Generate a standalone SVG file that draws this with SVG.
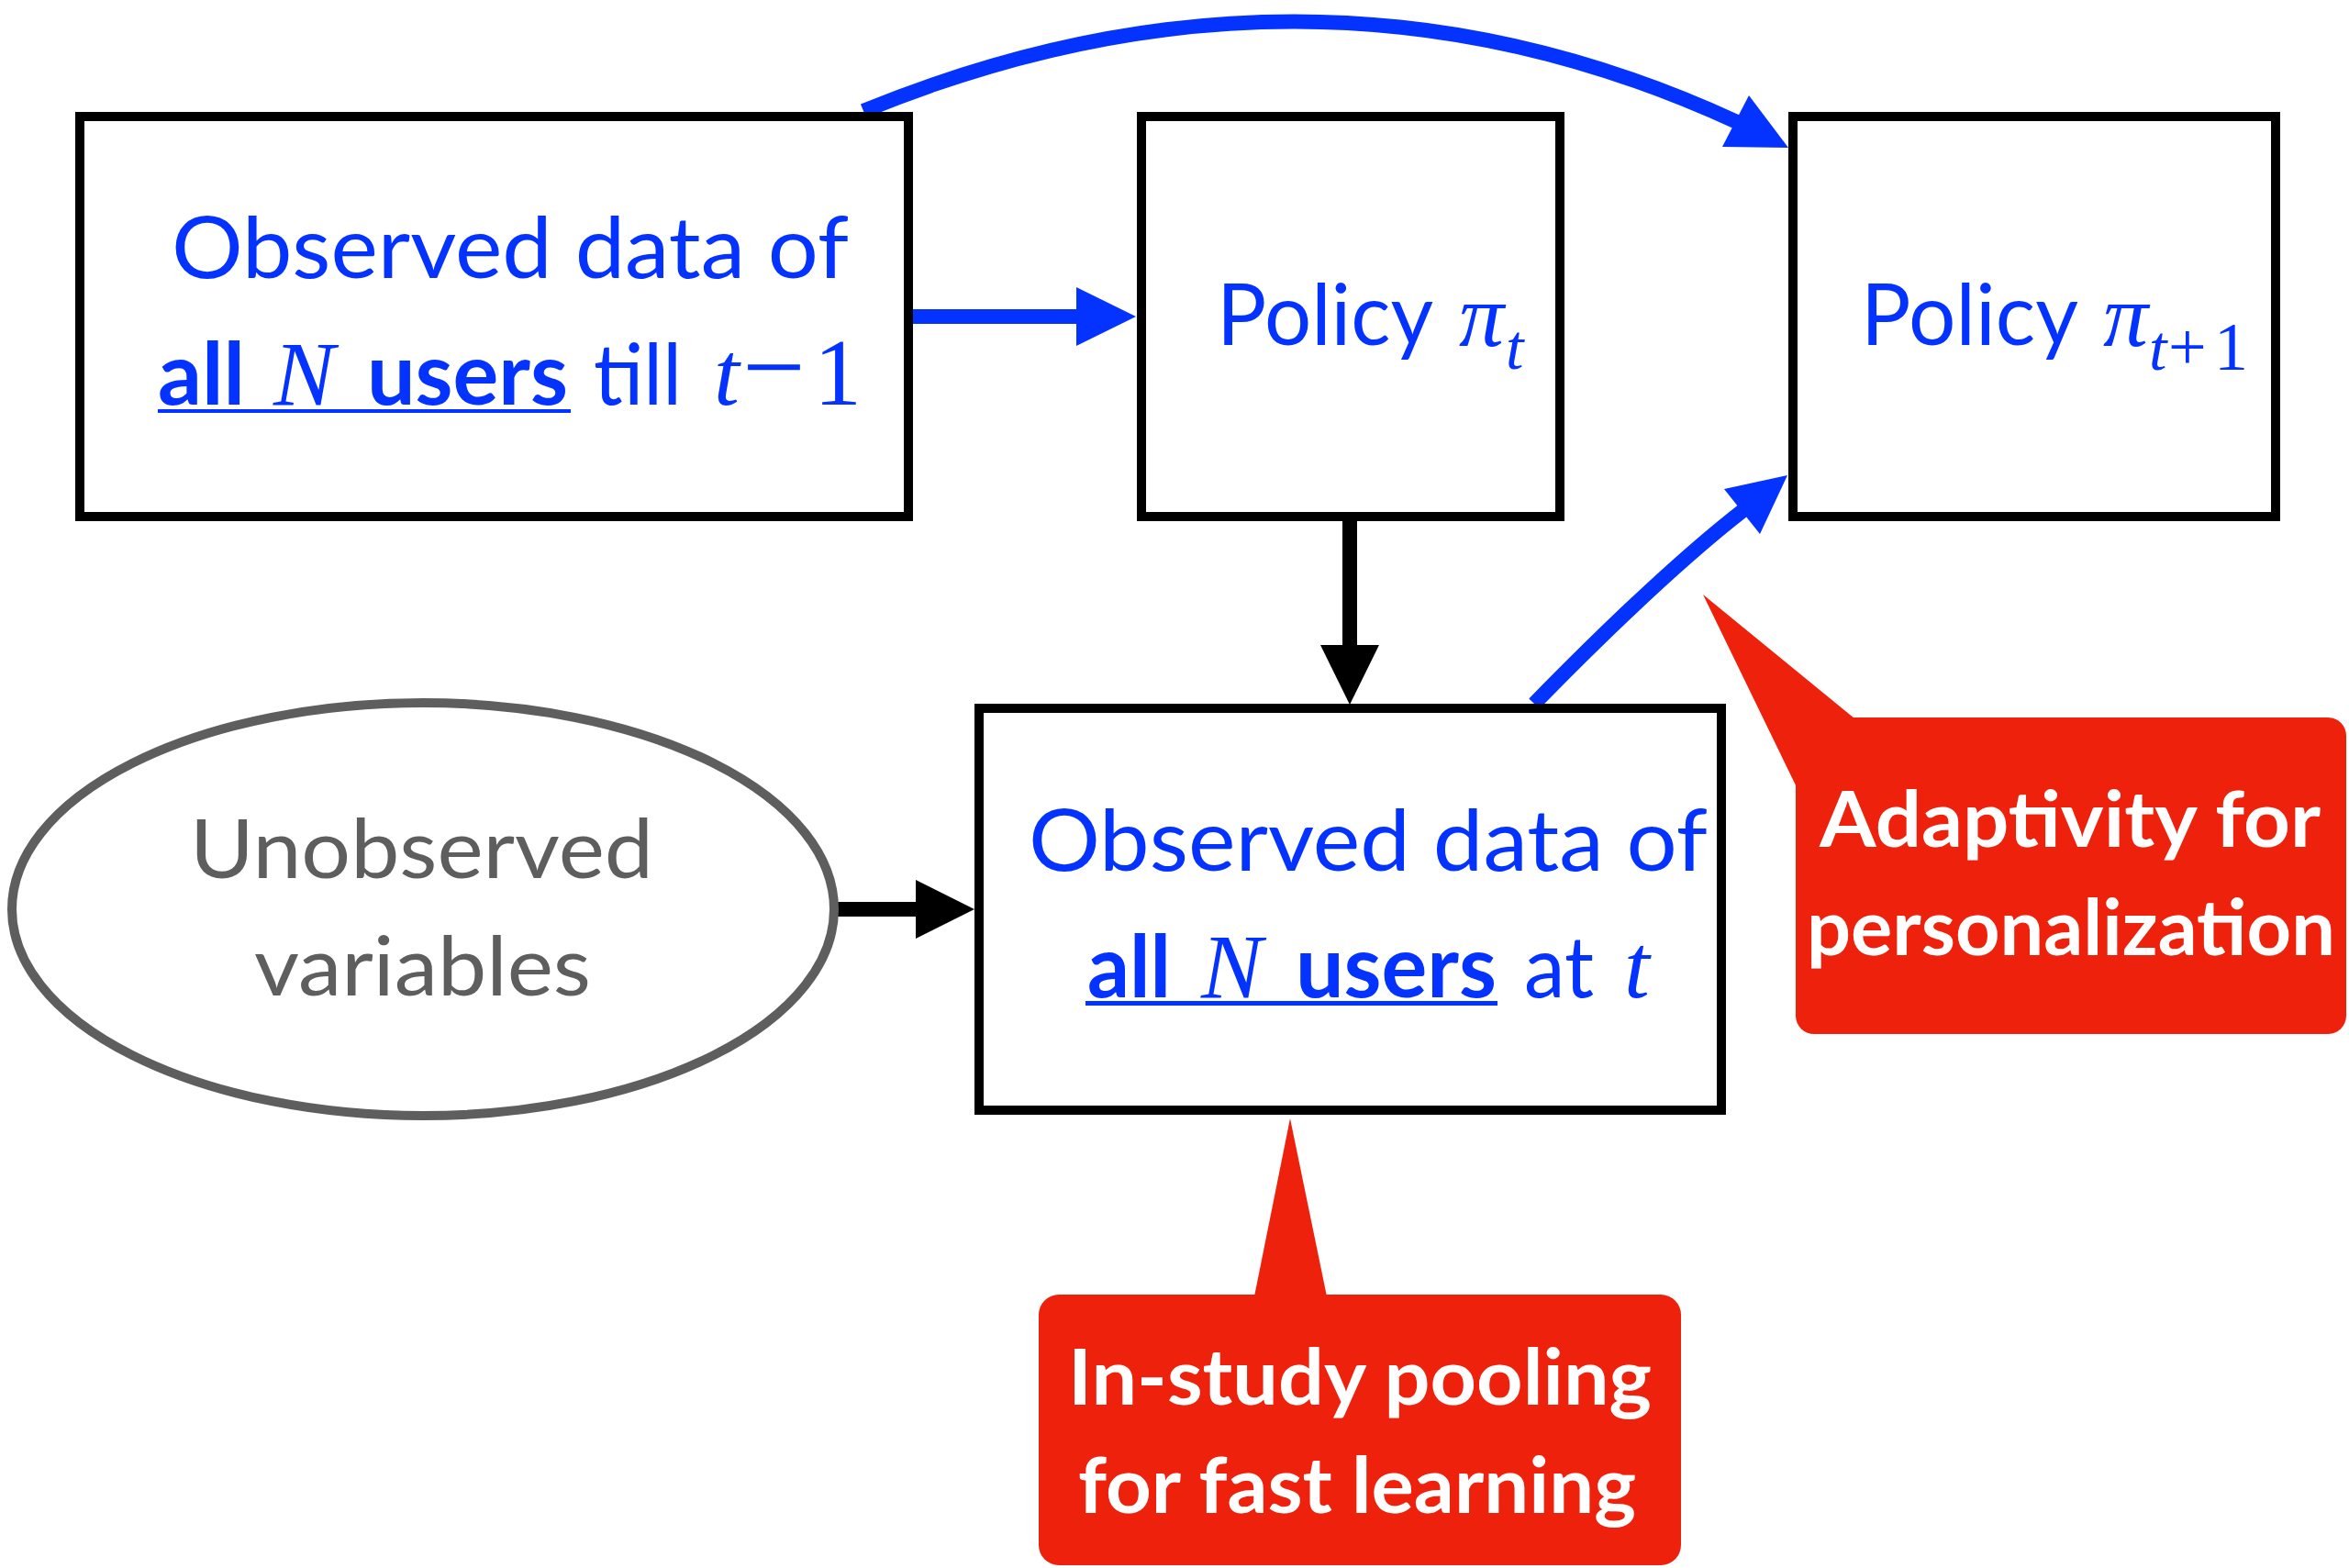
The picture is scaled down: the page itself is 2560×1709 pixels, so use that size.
<svg xmlns="http://www.w3.org/2000/svg" width="2560" height="1709" viewBox="0 0 2560 1709">
<style>
.box{fill:#ffffff;stroke:#000000;stroke-width:10}
.ell{fill:#ffffff;stroke:#5e5e5e;stroke-width:10}
.t{font-family:Lato,"Liberation Sans",sans-serif;font-size:94px;fill:#0433ff}
.b{font-weight:700}
.m{font-family:"Liberation Serif",serif;font-style:italic;fill:#0433ff}
.r{font-family:"Liberation Serif",serif;fill:#0433ff}
.g{font-family:Lato,"Liberation Sans",sans-serif;font-size:90px;fill:#5e5e5e}
.w{font-family:Lato,"Liberation Sans",sans-serif;font-size:85px;font-weight:700;fill:#ffffff}
.bl{fill:none;stroke:#0433ff;stroke-width:16}
.bk{fill:none;stroke:#000000;stroke-width:16}
.red{fill:#ee220c}
</style>
<rect width="2560" height="1709" fill="#ffffff"/>
<g id="connectors">
<line class="bl" x1="995" y1="345" x2="1176" y2="345"/>
<polygon fill="#0433ff" points="1173,313 1238,345 1173,377"/>
<path class="bl" d="M941,121 Q1431,-80 1893,133"/>
<polygon fill="#0433ff" points="1906,104 1949,161 1877,160"/>
<line class="bk" x1="1471" y1="568" x2="1471" y2="706"/>
<polygon fill="#000000" points="1439,703 1503,703 1471,768"/>
<line class="bk" x1="912" y1="991" x2="1001" y2="991"/>
<polygon fill="#000000" points="998,959 1062,991 998,1023"/>
<path class="bl" d="M1672,767 Q1810,626 1900,556"/>
<polygon fill="#0433ff" points="1948,518 1879,533 1918,582"/>
</g>
<g id="node-past">
<rect class="box" x="87" y="127" width="903" height="436"/>
<text class="t" x="187" y="303" textLength="738" lengthAdjust="spacingAndGlyphs">Observed data of</text>
<text class="t b" x="172" y="441" textLength="95" lengthAdjust="spacingAndGlyphs">all</text>
<text class="m" x="298" y="441" font-size="100">N</text>
<text class="t b" x="400" y="441" textLength="219" lengthAdjust="spacingAndGlyphs">users</text>
<text class="t" x="647" y="441" textLength="96" lengthAdjust="spacingAndGlyphs">till</text>
<text class="m" x="778" y="441" font-size="100">t</text>
<text class="r" x="809" y="441" font-size="122">−</text>
<text class="r" x="887" y="441" font-size="104">1</text>
<rect x="172" y="446" width="450" height="4" fill="#0433ff"/>
</g>
<g id="node-policy-t">
<rect class="box" x="1244" y="127" width="456" height="436"/>
<text class="t" x="1326" y="376" font-size="92" textLength="236" lengthAdjust="spacingAndGlyphs">Policy</text>
<text class="m" x="1590" y="377" font-size="98">π</text>
<text class="m" x="1641" y="402" font-size="70">t</text>
</g>
<g id="node-policy-t1">
<rect class="box" x="1954" y="127" width="526" height="436"/>
<text class="t" x="2028" y="376" font-size="92" textLength="237" lengthAdjust="spacingAndGlyphs">Policy</text>
<text class="m" x="2292" y="377" font-size="98">π</text>
<text class="m" x="2342" y="403" font-size="70">t</text>
<text class="r" x="2363" y="403" font-size="74">+</text>
<text class="r" x="2413" y="403" font-size="74">1</text>
</g>
<g id="node-present">
<rect class="box" x="1067" y="772" width="809" height="438"/>
<text class="t" x="1121" y="949" textLength="740" lengthAdjust="spacingAndGlyphs">Observed data of</text>
<text class="t b" x="1185" y="1087" textLength="91" lengthAdjust="spacingAndGlyphs">all</text>
<text class="m" x="1309" y="1087" font-size="100">N</text>
<text class="t b" x="1412" y="1087" textLength="219" lengthAdjust="spacingAndGlyphs">users</text>
<text class="t" x="1661" y="1087" textLength="76" lengthAdjust="spacingAndGlyphs">at</text>
<text class="m" x="1770" y="1087" font-size="100">t</text>
<rect x="1183" y="1091" width="449" height="5" fill="#0433ff"/>
</g>
<g id="node-unobserved">
<ellipse class="ell" cx="461" cy="991" rx="448" ry="225"/>
<text class="g" x="207" y="957" textLength="505" lengthAdjust="spacingAndGlyphs">Unobserved</text>
<text class="g" x="277" y="1085" textLength="367" lengthAdjust="spacingAndGlyphs">variables</text>
</g>
<g id="callout-pooling">
<rect class="red" x="1132" y="1411" width="700" height="295" rx="22" ry="22"/>
<polygon class="red" points="1367,1413 1406,1219 1446,1413"/>
<text class="w" x="1164" y="1531" textLength="636" lengthAdjust="spacingAndGlyphs">In-study pooling</text>
<text class="w" x="1175" y="1649" textLength="608" lengthAdjust="spacingAndGlyphs">for fast learning</text>
</g>
<g id="callout-adaptivity">
<rect class="red" x="1957" y="782" width="600" height="345" rx="20" ry="20"/>
<polygon class="red" points="1856,648 2021,783 1990,783 1990,860 1958,858"/>
<text class="w" x="1983" y="923" font-size="84" textLength="546" lengthAdjust="spacingAndGlyphs">Adaptivity for</text>
<text class="w" x="1969" y="1041" font-size="84" textLength="576" lengthAdjust="spacingAndGlyphs">personalization</text>
</g>
</svg>
